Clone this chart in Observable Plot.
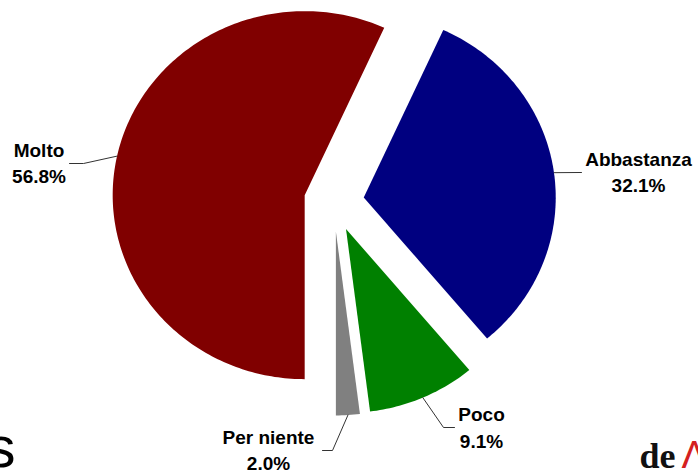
<!DOCTYPE html>
<html>
<head>
<meta charset="utf-8">
<script src="https://cdn.jsdelivr.net/npm/d3@7"></script>
<script src="https://cdn.jsdelivr.net/npm/@observablehq/plot@0.6"></script>
<style>
  html, body { margin: 0; padding: 0; background: #ffffff; }
  svg { display: block; }
</style>
</head>
<body>
<div id="chart"></div>
<script>
// ---- data ----
const categories = ["Molto", "Abbastanza", "Poco", "Per niente"];
const values = [56.8, 32.1, 9.1, 2.0];
const colors = ["#800000", "#000080", "#008000", "#808080"];

// ---- layout (pixels) ----
const W = 698, H = 471;
const CX = 333.5, CY = 201, RX = 192, RY = 184, EXPLODE = 30;
// label placement: text centre/top, leader elbows and end
const labelLayout = {
  "Molto":      {tx: 38.5, ty: 138,   mids: [[83, 163]], end: [69, 163]},
  "Abbastanza": {tx: 638,  ty: 147,   mids: [],          end: [581, 172]},
  "Poco":       {tx: 481,  ty: 402.5, mids: [[443, 427]], end: [454, 427]},
  "Per niente": {tx: 268,  ty: 425,   mids: [[332, 450]], end: [322, 450]}
};

const table = categories.map((c, i) => ({name: c, value: values[i], color: colors[i]}));
const arcs = d3.pie().sort(null).value(d => d.value).startAngle(Math.PI).endAngle(3 * Math.PI)(table);

const marks = [];
const leaders = [];
const labels = [];
for (const a of arcs) {
  const mid = (a.startAngle + a.endAngle) / 2;
  const ox = CX + EXPLODE * Math.sin(mid);
  const oy = CY - EXPLODE * Math.cos(mid);
  const n = Math.max(4, Math.ceil((a.endAngle - a.startAngle) / (2 * Math.PI) * 360));
  const pts = [{x: ox, y: oy}];
  for (let k = 0; k <= n; k++) {
    const t = a.startAngle + (a.endAngle - a.startAngle) * k / n;
    pts.push({x: ox + RX * Math.sin(t), y: oy - RY * Math.cos(t)});
  }
  pts.push({x: ox, y: oy});
  marks.push(Plot.line(pts, {x: "x", y: "y", fill: a.data.color, stroke: "none", curve: "linear"}));

  const L = labelLayout[a.data.name];
  const start = [ox + RX * Math.sin(mid), oy - RY * Math.cos(mid)];
  const path = [start, ...L.mids, L.end];
  path.forEach(p => leaders.push({name: a.data.name, x: p[0], y: p[1]}));
  labels.push({x: L.tx, y: L.ty, text: a.data.name + "\n" + a.data.value.toFixed(1) + "%"});
}

const plot = Plot.plot({
  width: W,
  height: H,
  margin: 0,
  x: {domain: [0, W], range: [0, W], axis: null},
  y: {domain: [0, H], range: [0, H], axis: null},
  style: {background: "#ffffff"},
  marks: [
    ...marks,
    Plot.line(leaders, {x: "x", y: "y", z: "name", stroke: "#333333", strokeWidth: 1}),
    Plot.text(labels, {
      x: "x", y: "y", text: "text",
      textAnchor: "middle", lineAnchor: "top", lineHeight: 1.37,
      fontSize: 19, fontWeight: "bold", fill: "#000000",
      fontFamily: "'Liberation Sans', Arial, sans-serif"
    }),
    // cut-off slide decorations
    Plot.text(["s"], {x: () => 15, y: () => 466, text: d => d, textAnchor: "end", lineAnchor: "bottom",
      fontSize: 58, fill: "#000000", fontFamily: "'Liberation Sans', Arial, sans-serif"}),
    Plot.text(["de"], {x: () => 639, y: () => 467, text: d => d, textAnchor: "start", lineAnchor: "bottom",
      fontSize: 36, fontWeight: "bold", fill: "#111111", fontFamily: "'Liberation Serif', 'DejaVu Serif', serif"}),
    Plot.text(["Λ"], {x: () => 681, y: () => 467, text: d => d, textAnchor: "start", lineAnchor: "bottom",
      fontSize: 38, fill: "#d42020", fontFamily: "'Liberation Sans', Arial, sans-serif"})
  ]
});
document.getElementById("chart").appendChild(plot);
</script>
</body>
</html>
